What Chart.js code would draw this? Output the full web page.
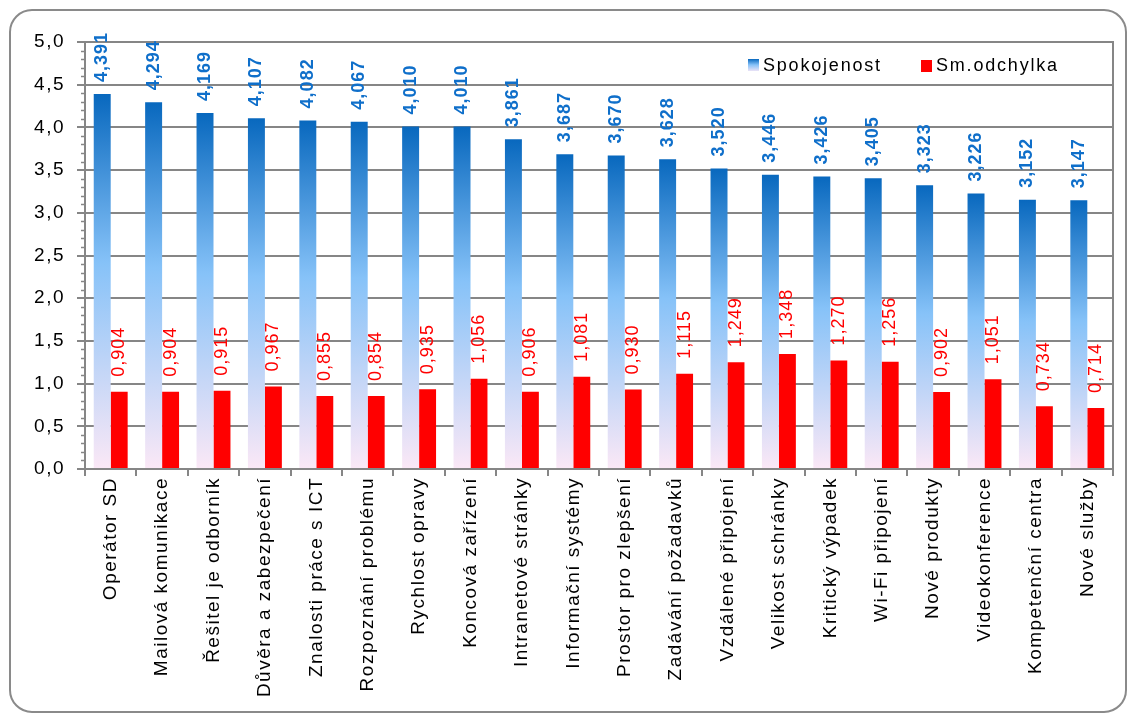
<!DOCTYPE html>
<html>
<head>
<meta charset="utf-8">
<script src="https://cdn.jsdelivr.net/npm/chart.js@4/dist/chart.umd.min.js"></script>
<style>
html,body{margin:0;padding:0;background:#fff;}
#wrap{width:1129px;height:720px;position:relative;}
</style>
</head>
<body>
<div id="wrap"><canvas id="c" width="1129" height="720"></canvas></div>
<script>
const categories = ["Operátor SD","Mailová komunikace","Řešitel je odborník","Důvěra a zabezpečení","Znalosti práce s ICT","Rozpoznání problému","Rychlost opravy","Koncová zařízení","Intranetové stránky","Informační systémy","Prostor pro zlepšení","Zadávání požadavků","Vzdálené připojení","Velikost schránky","Kritický výpadek","Wi-Fi připojení","Nové produkty","Videokonference","Kompetenční centra","Nové služby"];
const spokojenost = [4.391,4.294,4.169,4.107,4.082,4.067,4.010,4.010,3.861,3.687,3.670,3.628,3.520,3.446,3.426,3.405,3.323,3.226,3.152,3.147];
const odchylka = [0.904,0.904,0.915,0.967,0.855,0.854,0.935,1.056,0.906,1.081,0.930,1.115,1.249,1.348,1.270,1.256,0.902,1.051,0.734,0.714];
const seriesNames = ["Spokojenost","Sm.odchylka"];
const yTicks = [0,0.5,1,1.5,2,2.5,3,3.5,4,4.5,5];

const FONT = "'Liberation Sans', Arial, sans-serif";
const GRID = '#868686';

function blueGrad(ctx, top, bottom){
  const g = ctx.createLinearGradient(0, top, 0, bottom);
  g.addColorStop(0, '#0868be');
  g.addColorStop(0.45, '#86c2f8');
  g.addColorStop(1, '#fbe8f6');
  return g;
}
const fmt = (v, d) => v.toFixed(d).replace('.', ',');

const decor = {
  id: 'decor',
  beforeDraw(chart){
    const c = chart.ctx;
    c.save();
    c.fillStyle = '#fff';
    c.fillRect(0,0,chart.width,chart.height);
    c.strokeStyle = '#8a8a8a';
    c.lineWidth = 2;
    c.beginPath();
    c.roundRect(10, 10, 1116, 702, 22);
    c.stroke();
    c.restore();
    c.letterSpacing = '1.5px';
  },
  afterDraw(chart){
    const c = chart.ctx, a = chart.chartArea, y = chart.scales.y;
    c.save();
    // plot border
    c.strokeStyle = GRID; c.lineWidth = 2;
    c.strokeRect(a.left, a.top, a.right - a.left, a.bottom - a.top);
    // minor ticks
    c.beginPath();
    for (let i = 0; i <= 50; i++){
      if (i % 5 === 0) continue;
      const py = Math.round(y.getPixelForValue(i/10)) + 0.5;
      c.moveTo(a.left - 4, py); c.lineTo(a.left, py);
    }
    c.lineWidth = 1.5;
    c.stroke();
    // data labels
    chart.data.datasets.forEach((ds, di) => {
      const meta = chart.getDatasetMeta(di);
      meta.data.forEach((el, i) => {
        const txt = fmt(ds.data[i], 3);
        c.save();
        c.translate(el.x, el.y - (di === 0 ? 12 : 15));
        c.rotate(-Math.PI/2);
        c.textAlign = 'left';
        c.textBaseline = 'middle';
        c.letterSpacing = '1px';
        c.font = di === 0 ? ('bold 18px ' + FONT) : ('18px ' + FONT);
        c.fillStyle = di === 0 ? '#0f6fca' : '#ff0000';
        c.fillText(txt, 0, 0);
        c.restore();
      });
    });
    // legend
    c.letterSpacing = '1.8px';
    c.font = '18px ' + FONT;
    c.textBaseline = 'middle';
    c.textAlign = 'left';
    c.fillStyle = blueGrad(c, 59, 72);
    c.fillRect(748, 59, 11, 12);
    c.fillStyle = '#000';
    c.fillText(seriesNames[0], 763, 66);
    c.fillStyle = '#ff0000';
    c.fillRect(921, 60, 11, 12);
    c.fillStyle = '#000';
    c.fillText(seriesNames[1], 936, 66);
    c.restore();
  }
};

new Chart(document.getElementById('c'), {
  type: 'bar',
  data: {
    labels: categories,
    datasets: [
      {
        label: seriesNames[0],
        data: spokojenost,
        backgroundColor: (ctx) => {
          const ch = ctx.chart;
          if (!ch.chartArea || ctx.raw === undefined) return '#4a9ae0';
          const y = ch.scales.y;
          return blueGrad(ch.ctx, y.getPixelForValue(ctx.raw), y.getPixelForValue(0));
        },
        borderWidth: 0,
        barPercentage: 1,
        categoryPercentage: 0.66
      },
      {
        label: seriesNames[1],
        data: odchylka,
        backgroundColor: '#ff0000',
        borderWidth: 0,
        barPercentage: 1,
        categoryPercentage: 0.66
      }
    ]
  },
  options: {
    responsive: false,
    animation: false,
    layout: { padding: { top: 42, right: 16, left: 0, bottom: 0 } },
    plugins: { legend: { display: false }, tooltip: { enabled: false } },
    scales: {
      x: {
        offset: true,
        grid: { offset: true, drawOnChartArea: false, drawTicks: true, tickLength: 7, color: GRID, lineWidth: 2 },
        border: { color: GRID, width: 2 },
        ticks: {
          minRotation: 90, maxRotation: 90, autoSkip: false, padding: 1,
          color: '#000', font: { family: FONT, size: 19 }
        },
        afterFit(s){ s.height = 251; }
      },
      y: {
        min: 0, max: 5,
        afterBuildTicks(s){ s.ticks = yTicks.map(v => ({ value: v })); },
        grid: { color: GRID, lineWidth: 2, tickLength: 8 },
        border: { color: GRID, width: 2 },
        ticks: {
          padding: 12, color: '#000',
          font: { family: FONT, size: 19 },
          callback: (v) => fmt(v, 1)
        },
        afterFit(s){ s.width = 85; }
      }
    }
  },
  plugins: [decor]
});
</script>
</body>
</html>
